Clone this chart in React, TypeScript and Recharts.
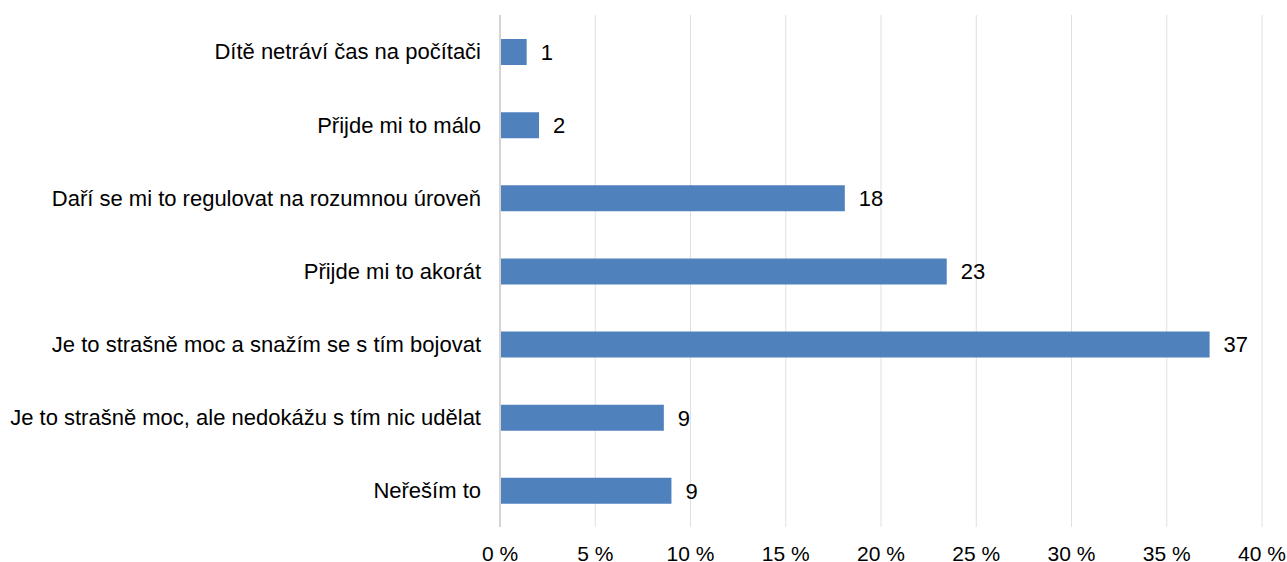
import React from 'react';
import { BarChart, Bar, XAxis, YAxis, CartesianGrid, LabelList } from 'recharts';

const categories = [
  'Dítě netráví čas na počítači',
  'Přijde mi to málo',
  'Daří se mi to regulovat na rozumnou úroveň',
  'Přijde mi to akorát',
  'Je to strašně moc a snažím se s tím bojovat',
  'Je to strašně moc, ale nedokážu s tím nic udělat',
  'Neřeším to',
];
const values = [1.4, 2.05, 18.1, 23.45, 37.25, 8.6, 9.0];
const valueLabels = ['1', '2', '18', '23', '37', '9', '9'];
const xTicks = [0, 5, 10, 15, 20, 25, 30, 35, 40];

const data = categories.map((c, i) => ({ name: c, value: values[i], label: valueLabels[i] }));

const FONT = 'Liberation Sans, Arial, sans-serif';

export default function App() {
  return (
    <div style={{ position: 'absolute', left: 0, top: 0, background: '#fff' }}>
      <BarChart
        width={1287}
        height={562}
        data={data}
        layout="vertical"
        margin={{ top: 15, right: 25, bottom: 0, left: 0 }}
        barCategoryGap={0}
      >
        <CartesianGrid horizontal={false} stroke="#e0e0e0" />
        <XAxis
          type="number"
          domain={[0, 40]}
          ticks={xTicks}
          tickFormatter={(v: number) => `${v} %`}
          axisLine={false}
          tickLine={false}
          tickSize={0}
          tickMargin={19}
          height={35}
          interval={0}
          tick={{ fill: '#000', fontSize: 21, fontFamily: FONT }}
        />
        <YAxis
          type="category"
          dataKey="name"
          width={500}
          axisLine={{ stroke: '#d4d4d4', strokeWidth: 2 }}
          tickLine={false}
          tickSize={0}
          tickMargin={19}
          interval={0}
          tick={{ fill: '#000', fontSize: 22, fontFamily: FONT }}
        />
        <Bar dataKey="value" fill="#4F81BD" barSize={26} isAnimationActive={false}>
          <LabelList
            dataKey="label"
            position="right"
            offset={14}
            style={{ fill: '#000', fontSize: 22, fontFamily: FONT }}
          />
        </Bar>
      </BarChart>
    </div>
  );
}
